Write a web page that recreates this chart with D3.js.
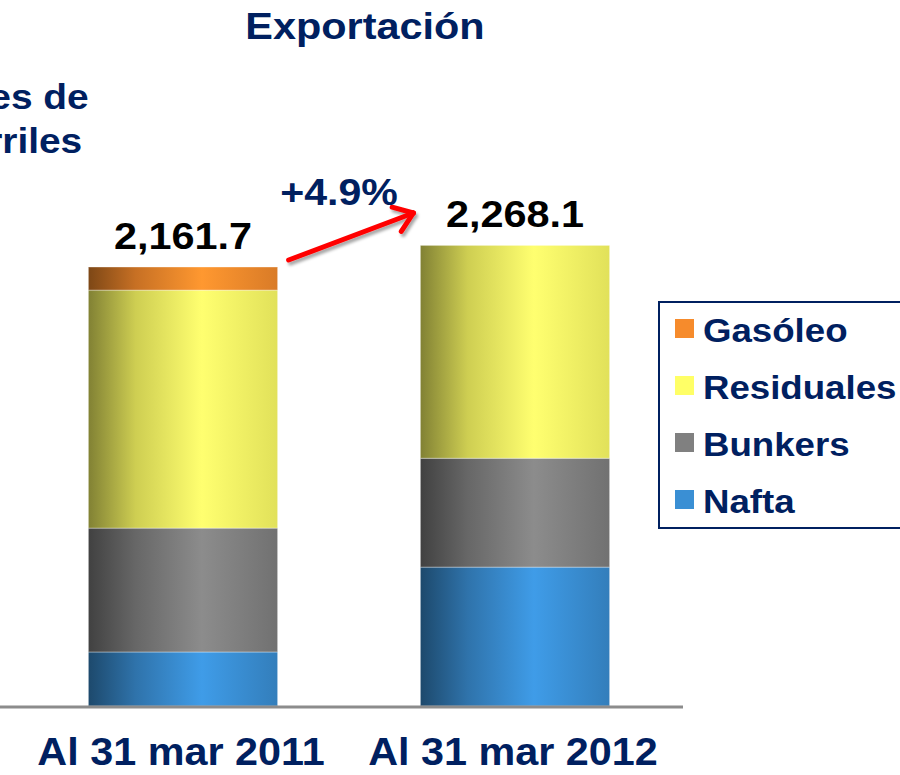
<!DOCTYPE html>
<html>
<head>
<meta charset="utf-8">
<title>Exportación</title>
<script src="https://d3js.org/d3.v7.min.js"></script>
<style>
  body { margin: 0; background: #fff; }
  text { font-family: Arial, "Liberation Sans", sans-serif; font-weight: bold; }
</style>
</head>
<body>
<script>
// data (miles de barriles)
var categories = ["Al 31 mar 2011", "Al 31 mar 2012"];
var series = ["Nafta", "Bunkers", "Residuales", "Gasóleo"];
var nafta = [266, 684];
var bunkers = [610, 536];
var residuales = [1172, 1048.1];
var gasoleo = [113.7, 0];
var totals = [2161.7, 2268.1];
var totalLabels = ["2,161.7", "2,268.1"];
var growthLabel = "+4.9%";
var unitLabel = ["Miles de", "barriles"];

var colors = { "Nafta": "#3a8fd4", "Bunkers": "#808080", "Residuales": "#ffff66", "Gasóleo": "#f68b2c" };
var navy = "#002060";

var w = 900, h = 775;
var svg = d3.select("body").append("svg").attr("width", w).attr("height", h);
var defs = svg.append("defs");

// stretch text a bit wider, the slide text is wide
function stretch(sel, k) {
  sel.each(function() {
    var len = this.getComputedTextLength();
    d3.select(this).attr("textLength", len * k).attr("lengthAdjust", "spacingAndGlyphs");
  });
}

// cylinder-ish shading per series
series.forEach(function(s, i) {
  var base = d3.color(colors[s]);
  var g = defs.append("linearGradient").attr("id", "g" + i)
    .attr("x1", "0%").attr("x2", "100%").attr("y1", "0%").attr("y2", "0%");
  g.append("stop").attr("offset", "0%").attr("stop-color", base.darker(1.9));
  g.append("stop").attr("offset", "25%").attr("stop-color", base.darker(0.6));
  g.append("stop").attr("offset", "60%").attr("stop-color", base.brighter(0.25));
  g.append("stop").attr("offset", "100%").attr("stop-color", base.darker(0.35));
});

var shadow = defs.append("filter").attr("id", "shadow")
  .attr("x", "-20%").attr("y", "-20%").attr("width", "140%").attr("height", "140%");
shadow.append("feDropShadow").attr("dx", 2).attr("dy", 3).attr("stdDeviation", 1.5)
  .attr("flood-color", "#000").attr("flood-opacity", 0.35);

var x = d3.scaleBand().domain(categories).range([17, 681]).paddingInner(0.43).paddingOuter(0.215);
var y = d3.scaleLinear().domain([0, totals[0]]).range([706, 267]);

var rows = categories.map(function(c, i) {
  return { cat: c, "Nafta": nafta[i], "Bunkers": bunkers[i], "Residuales": residuales[i], "Gasóleo": gasoleo[i] };
});
var stacked = d3.stack().keys(series)(rows);

svg.selectAll("g.layer").data(stacked).enter().append("g")
  .attr("class", "layer")
  .attr("fill", function(d, i) { return "url(#g" + i + ")"; })
  .selectAll("rect").data(function(d) { return d; }).enter().append("rect")
  .attr("x", function(d) { return x(d.data.cat); })
  .attr("width", x.bandwidth())
  .attr("y", function(d) { return y(d[1]); })
  .attr("height", function(d) { return y(d[0]) - y(d[1]); })
  .attr("stroke", "rgba(255,255,255,0.35)")
  .attr("stroke-width", 1);

// baseline
svg.append("line").attr("x1", 0).attr("x2", 683).attr("y1", y(0) + 1).attr("y2", y(0) + 1)
  .attr("stroke", "#8c8c8c").attr("stroke-width", 3);

// total labels
svg.selectAll("text.total").data(totals).enter().append("text")
  .attr("class", "total")
  .attr("x", function(d, i) { return x(categories[i]) + x.bandwidth() / 2; })
  .attr("y", function(d) { return y(d) - 18; })
  .attr("text-anchor", "middle")
  .attr("font-size", "36px")
  .attr("fill", "#000")
  .text(function(d, i) { return totalLabels[i]; })
  .call(stretch, 1.15);

// category labels
svg.selectAll("text.cat").data(categories).enter().append("text")
  .attr("class", "cat")
  .attr("x", function(d) { return x(d) + x.bandwidth() / 2 - 2; })
  .attr("y", 765)
  .attr("text-anchor", "middle")
  .attr("font-size", "39px")
  .attr("fill", navy)
  .text(function(d) { return d; })
  .call(stretch, 1.06);

// title
svg.append("text").attr("x", 365).attr("y", 39).attr("text-anchor", "middle")
  .attr("font-size", "36px").attr("fill", navy).text("Exportación")
  .call(stretch, 1.15);

// unit label (cut off on the left, like the slide)
svg.selectAll("text.unit").data(unitLabel).enter().append("text")
  .attr("class", "unit")
  .attr("x", 12)
  .attr("y", function(d, i) { return 109 + i * 44; })
  .attr("text-anchor", "middle")
  .attr("font-size", "35px")
  .attr("fill", navy)
  .text(function(d) { return d; })
  .call(stretch, 1.11);

// growth arrow
var arrow = svg.append("g").attr("filter", "url(#shadow)")
  .attr("stroke", "#ff0000").attr("stroke-width", 5).attr("stroke-linecap", "round").attr("fill", "none");
var ax1 = x(categories[0]) + x.bandwidth() + 11, ay1 = 260;
var ax2 = x(categories[1]) - 7, ay2 = 213;
arrow.append("line").attr("x1", ax1).attr("y1", ay1).attr("x2", ax2).attr("y2", ay2);
var ang = Math.atan2(ay2 - ay1, ax2 - ax1);
[ang + Math.PI * 0.8, ang - Math.PI * 0.8].forEach(function(a) {
  arrow.append("line").attr("x1", ax2).attr("y1", ay2)
    .attr("x2", ax2 + 22 * Math.cos(a)).attr("y2", ay2 + 22 * Math.sin(a));
});

svg.append("text").attr("x", 339).attr("y", 205).attr("text-anchor", "middle")
  .attr("font-size", "37px").attr("fill", navy).text(growthLabel)
  .call(stretch, 1.11);

// legend
var legend = svg.append("g");
legend.append("rect").attr("x", 659).attr("y", 302).attr("width", 260).attr("height", 226)
  .attr("fill", "#fff").attr("stroke", navy).attr("stroke-width", 2);
var legItems = series.slice().reverse();
var li = legend.selectAll("g.item").data(legItems).enter().append("g")
  .attr("class", "item")
  .attr("transform", function(d, i) { return "translate(0," + (342 + i * 57) + ")"; });
li.append("rect").attr("x", 675).attr("y", -23).attr("width", 19).attr("height", 19)
  .attr("fill", function(d) { return colors[d]; });
li.append("text").attr("x", 703).attr("y", 0).attr("font-size", "33px").attr("fill", navy)
  .text(function(d) { return d; })
  .call(stretch, 1.11);
</script>
</body>
</html>
